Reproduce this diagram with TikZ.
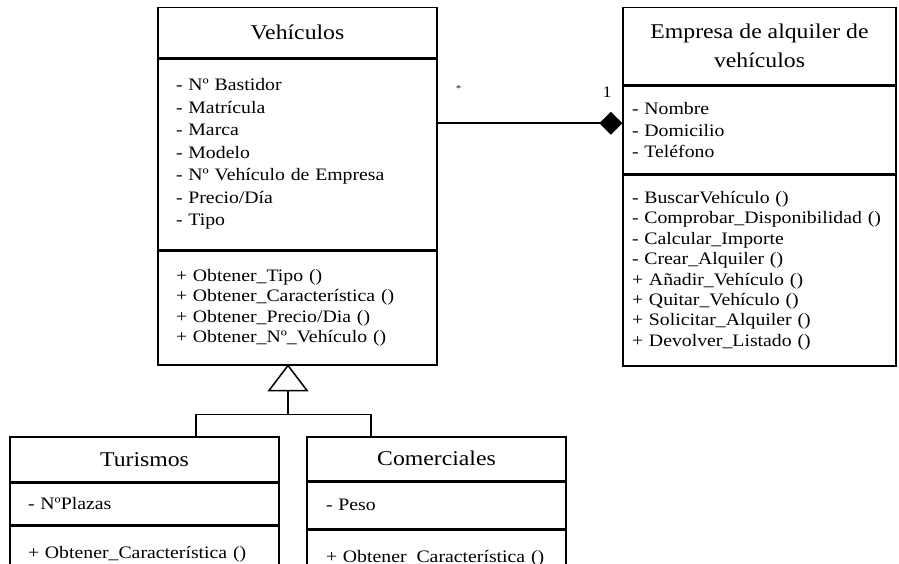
\documentclass[tikz,border=0pt]{standalone}
\usepackage{fontspec}
\setmainfont{Liberation Serif}[FakeStretch=1.13]
\usetikzlibrary{arrows.meta,positioning,calc}
\tikzset{box/.style={draw,line width=1.5pt,inner sep=0pt,anchor=north},
 head/.style={box,align=center,font=\fontsize{21}{29}\selectfont},
 part/.style={box,align=left,inner xsep=17pt,font=\fontsize{17.5}{22.5}\selectfont},
 edge/.style={line width=1.5pt},
 assoc/.style={line width=2.2pt,-{Diamond[length=23pt,width=23pt]}},
 mult/.style={inner sep=0pt}}

\begin{document}
\begin{tikzpicture}[x=1pt,y=-1pt]
\useasboundingbox (0,0) rectangle (899,564);
\clip (0,0) rectangle (899,564);
% Vehiculos
\node[head,minimum width=279pt,minimum height=50pt] (vh) at (297.5,7) {Vehículos};
\node[part,inner xsep=18pt,text width=243pt,minimum height=190pt,below=0pt of vh] (va)
 {- Nº Bastidor\\- Matrícula\\- Marca\\- Modelo\\- Nº Vehículo de Empresa\\- Precio/Día\\- Tipo};
\node[part,inner xsep=18pt,text width=243pt,minimum height=114pt,below=0pt of va,font=\fontsize{17.5}{20.3}\selectfont] (vm)
 {+ Obtener\_Tipo~()\\+ Obtener\_Característica~()\\+ Obtener\_Precio/Dia~()\\+ Obtener\_Nº\_Vehículo~()};
% Empresa
\node[head,minimum width=273pt,minimum height=77pt] (eh) at (759.5,7) {Empresa de alquiler de\\vehículos};
\node[part,inner xsep=9pt,text width=255pt,minimum height=88pt,below=0pt of eh,font=\fontsize{17.5}{21.5}\selectfont] (ea)
 {- Nombre\\- Domicilio\\- Teléfono};
\node[part,inner xsep=9pt,text width=255pt,minimum height=190pt,below=0pt of ea,font=\fontsize{17.5}{20.4}\selectfont] (em)
 {- BuscarVehículo~()\\- Comprobar\_Disponibilidad~()\\- Calcular\_Importe\\- Crear\_Alquiler~()\\+ Añadir\_Vehículo~()\\+ Quitar\_Vehículo~()\\+ Solicitar\_Alquiler~()\\+ Devolver\_Listado~()};
% Turismos y Comerciales
\node[head,minimum width=269pt,minimum height=45pt] (th) at (144.5,436) {Turismos};
\node[part,inner xsep=18pt,text width=233pt,minimum height=41pt,below=0pt of th] (ta) {- NºPlazas};
\node[part,inner xsep=18pt,text width=233pt,minimum height=58pt,below=0pt of ta] (tm) {+ Obtener\_Característica~()};
\node[head,minimum width=259pt,minimum height=44pt] (ch) at (436.5,436) {Comerciales};
\node[part,inner xsep=19pt,text width=221pt,minimum height=46pt,below=0pt of ch] (ca) {- Peso};
\node[part,inner xsep=19pt,text width=221pt,minimum height=58pt,below=0pt of ca] (cm) {+ Obtener\phantom{\_}Característica~()};
% agregacion
\coordinate (has) at ([yshift=7pt]ea.west);
\draw[assoc] (va.east |- has) -- (has);
\node[mult,font=\fontsize{9}{9}\selectfont] (mmany) at ($(va.east |- has)+(21,-35)$) {*};
\node[mult,font=\fontsize{16}{16}\selectfont] (mone) at ($(has)+(-15,-31)$) {1};
% herencia
\coordinate (apex) at ([xshift=-9.5pt]vm.south);
\coordinate (gbar) at ($(apex)+(0,49)$);
\draw[edge] (apex) -- ++(-19,25) -- ++(38,0) -- cycle;
\draw[edge] ($(apex)+(0,25)$) -- (gbar);
\draw[edge] ([xshift=51.5pt]th.north) |- (gbar) -| ([xshift=-65.5pt]ch.north);
\end{tikzpicture}
\end{document}
